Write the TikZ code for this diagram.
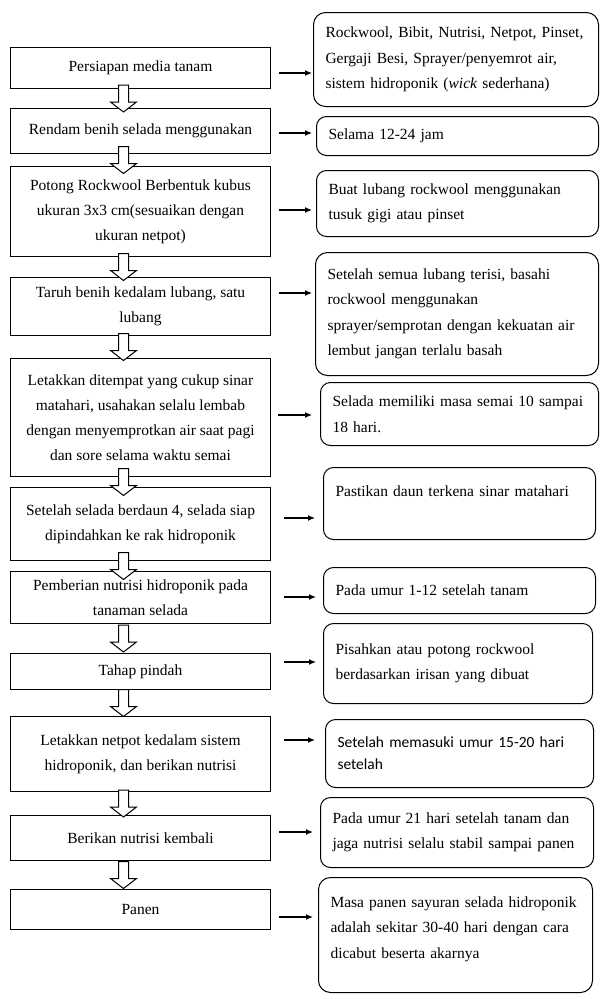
\documentclass[tikz,border=0pt]{standalone}
\usepackage{fontspec}
\setmainfont{Liberation Serif}
\newfontfamily\calibri{Carlito}
\usetikzlibrary{calc,arrows.meta}

\tikzset{
  langkah/.style={draw, line width=1pt, anchor=north west, minimum width=260pt, inner sep=0pt, align=center, font=\fontsize{15.5}{25}\selectfont},
  ket/.style={draw, line width=1pt, rounded corners=10pt, anchor=north west, inner xsep=12pt, inner ysep=0pt, align=left, font=\fontsize{15.5}{25.5}\selectfont},
  blok/.style={draw, line width=1pt, fill=white},
  panah/.style={line width=1.2pt, -{Latex[length=7pt,width=6pt]}}
}

\begin{document}
\begin{tikzpicture}[x=1pt, y=-1pt]
\useasboundingbox (0,0) rectangle (600,999);

\node[langkah, minimum height=41pt] at (10,47) (s1) {Persiapan media tanam};
\node[langkah, minimum height=45pt] at (10,108) (s2) {Rendam benih selada menggunakan};
\node[langkah, minimum height=90pt] at (10,166) (s3) {Potong Rockwool Berbentuk kubus\\ukuran 3x3 cm(sesuaikan dengan\\ukuran netpot)};
\node[langkah, minimum height=58pt] at (10,277) (s4) {Taruh benih kedalam lubang, satu\\lubang};
\node[langkah, minimum height=118pt] at (10,358) (s5) {Letakkan ditempat yang cukup sinar\\matahari, usahakan selalu lembab\\dengan menyemprotkan air saat pagi\\dan sore selama waktu semai};
\node[langkah, minimum height=73pt] at (10,487) (s6) {Setelah selada berdaun 4, selada siap\\dipindahkan ke rak hidroponik};
\node[langkah, minimum height=52pt] at (10,571) (s7) {Pemberian nutrisi hidroponik pada\\tanaman selada};
\node[langkah, minimum height=36pt] at (10,653) (s8) {Tahap pindah};
\node[langkah, minimum height=75pt] at (10,716) (s9) {Letakkan netpot kedalam sistem\\hidroponik, dan berikan nutrisi};
\node[langkah, minimum height=45pt] at (10,815) (s10) {Berikan nutrisi kembali};
\node[langkah, minimum height=40pt] at (10,889) (s11) {Panen};

\node[ket, text width=261pt, minimum height=94pt, rounded corners=12pt] at (313,12) (k1) {Rockwool, Bibit, Nutrisi, Netpot, Pinset,\\Gergaji Besi, Sprayer/penyemrot air,\\sistem hidroponik (\textit{wick} sederhana)};
\node[ket, text width=258pt, minimum height=39pt] at (316,116) (k2) {Selama 12-24 jam};
\node[ket, text width=258pt, minimum height=66pt] at (316,170) (k3) {Buat lubang rockwool menggunakan\\tusuk gigi atau pinset};
\node[ket, text width=259pt, minimum height=123pt, rounded corners=12pt] at (315,252) (k4) {Setelah semua lubang terisi, basahi\\rockwool menggunakan\\sprayer/semprotan dengan kekuatan air\\lembut jangan terlalu basah};
\node[ket, text width=254pt, minimum height=63pt] at (320,382) (k5) {Selada memiliki masa semai 10 sampai\\18 hari.};
\node[ket, text width=248pt, minimum height=72pt] at (323,467) (k6) {Pastikan daun terkena sinar matahari\\ \mbox{}};
\node[ket, text width=248pt, minimum height=46pt] at (323,567) (k7) {Pada umur 1-12 setelah tanam};
\node[ket, text width=245pt, minimum height=80pt] at (323,623) (k8) {Pisahkan atau potong rockwool\\berdasarkan irisan yang dibuat};
\node[ket, text width=244pt, minimum height=68pt, font=\calibri\fontsize{15.5}{22}\selectfont] at (325,719) (k9) {Setelah memasuki umur 15-20 hari\\setelah};
\node[ket, text width=249pt, minimum height=70pt] at (320,797) (k10) {Pada umur 21 hari setelah tanam dan\\jaga nutrisi selalu stabil sampai panen};
\node[ket, text width=250pt, minimum height=115pt, rounded corners=12pt] at (318,877) (k11) {Masa panen sayuran selada hidroponik\\adalah sekitar 30-40 hari dengan cara\\dicabut beserta akarnya\\[-10pt]\mbox{}};

% panah turun
\foreach \a/\b in {s1/s2,s2/s3,s3/s4,s4/s5,s5/s6,s6/s7,s7/s8,s8/s9,s9/s10,s10/s11}
  \draw[blok] let \p1=($(\a.south)!0.5!(\b.north)$) in
    (\x1-22pt,\y1+13.5pt) -- (\x1-12pt,\y1+13.5pt) -- (\x1-12pt,\y1-3.5pt) -- (\x1-4pt,\y1-3.5pt)
    -- (\x1-17pt,\y1-13.5pt) -- (\x1-30pt,\y1-3.5pt) -- (\x1-22pt,\y1-3.5pt) -- cycle;

% panah ke keterangan
\foreach \a/\b/\y/\p/\q in {s1/k1/73/8/1, s2/k2/133/8/4, s3/k3/210/8/4, s4/k4/293/8/3, s5/k5/415/7/8, s6/k6/518/13/8,
    s7/k7/597/13/7, s8/k8/662/13/7, s9/k9/740/13/10, s10/k10/832/8/7, s11/k11/917/8/5}
  \draw[panah] ($(\a.east |- 0,\y)+(\p,0)$) -- ($(\b.west |- 0,\y)+(-\q,0)$);
\end{tikzpicture}
\end{document}
